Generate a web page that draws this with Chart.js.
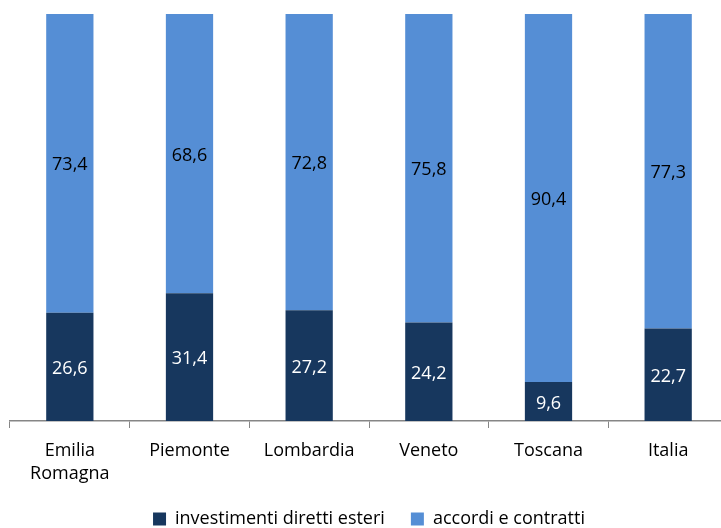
<!DOCTYPE html>
<html>
<head>
<meta charset="utf-8">
<script src="https://cdn.jsdelivr.net/npm/chart.js@4"></script>
<style>
  html, body { margin: 0; padding: 0; background: #fff; overflow: hidden; }
  #wrap { width: 728px; height: 528px; position: relative; }
</style>
</head>
<body>
<div id="wrap"><canvas id="barChart"></canvas></div>
<script>
"use strict";

// Regioni e quote percentuali
const regioni = [["Emilia", "Romagna"], "Piemonte", "Lombardia", "Veneto", "Toscana", "Italia"];
const investimenti = [26.6, 31.4, 27.2, 24.2, 9.6, 22.7];
const accordi = [73.4, 68.6, 72.8, 75.8, 90.4, 77.3];

const fontFamily = "'Open Sans', sans-serif";

// Etichette con il valore al centro di ogni segmento
const valueLabels = {
    id: 'valueLabels',
    afterDatasetsDraw(chart) {
        const ctx = chart.ctx;
        ctx.save();
        ctx.font = "18px " + fontFamily;
        ctx.textAlign = 'center';
        ctx.textBaseline = 'middle';
        chart.data.datasets.forEach((ds, i) => {
            const meta = chart.getDatasetMeta(i);
            meta.data.forEach((bar, j) => {
                const y = (bar.y + bar.base) / 2 + 2;
                ctx.fillStyle = ds.labelColor;
                ctx.fillText(ds.data[j].toFixed(1).replace('.', ','), bar.x, y);
            });
        });
        ctx.restore();
    }
};

const ctx = document.getElementById('barChart');

const barChart = new Chart(ctx, {
    type: 'bar',
    data: {
        labels: regioni,
        datasets: [{
            label: 'investimenti diretti esteri',
            data: investimenti,
            backgroundColor: '#17375E',
            borderWidth: 0,
            labelColor: '#ffffff'
        }, {
            label: 'accordi e contratti',
            data: accordi,
            backgroundColor: '#558ED5',
            borderWidth: 0,
            labelColor: '#000000'
        }]
    },
    options: {
        responsive: true,
        maintainAspectRatio: false,
        animation: false,
        layout: { padding: { left: 10, top: 14, right: 0, bottom: 0 } },
        datasets: {
            bar: { barPercentage: 0.395, categoryPercentage: 1 }
        },
        scales: {
            x: {
                stacked: true,
                grid: {
                    offset: true,
                    drawOnChartArea: false,
                    tickLength: 7,
                    color: '#868686'
                },
                border: { color: '#868686', width: 1.5 },
                ticks: {
                    color: '#000',
                    padding: 11,
                    font: { family: fontFamily, size: 18, lineHeight: 1.28 }
                },
                // altezza fissa dell'asse, la legenda sta subito sotto
                afterFit(scale) {
                    scale.height = 63;
                }
            },
            y: {
                stacked: true,
                display: false,
                min: 0,
                max: 100
            }
        },
        plugins: {
            legend: {
                position: 'bottom',
                maxHeight: 44,
                labels: {
                    color: '#000',
                    boxWidth: 13,
                    boxHeight: 13,
                    padding: 26,
                    font: { family: fontFamily, size: 18 }
                }
            },
            tooltip: { enabled: false }
        }
    },
    plugins: [valueLabels]
});
</script>
</body>
</html>
